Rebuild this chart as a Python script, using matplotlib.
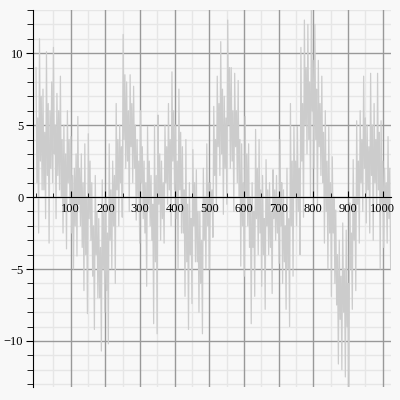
import numpy as np
import matplotlib.pyplot as plt
from matplotlib.ticker import MultipleLocator

# the signal in steps of 10 along x:
# a peak, two in-between values and a trough for every step
highs = [
    9.0, 11.0, 7.5, 10.1, 6.0, 10.4, 7.2, 8.4, 5.0, 6.0,
    4.2, 2.0, 5.6, 3.0, 3.7, 4.4, 1.0, 1.5, -1.5, 1.2,
    0.0, 3.7, 2.5, 6.5, 5.0, 11.3, 8.0, 8.5, 7.7, 4.0,
    6.0, 2.5, 4.9, 1.5, 5.0, 5.7, 2.5, 5.0, 6.5, 8.7,
    5.0, 7.5, 3.5, 4.0, 1.0, 3.3, 1.9, -1.0, 2.0, 3.7,
    1.0, 6.3, 8.4, 10.8, 7.0, 12.3, 9.0, 8.6, 8.1, 3.7,
    5.6, 3.7, 1.0, 4.7, 4.0, 1.5, 2.6, 1.0, 1.9, 1.5,
    4.0, 0.5, 2.0, 6.5, 4.9, 4.9, 10.4, 12.3, 12.0, 13.0,
    12.0, 9.5, 8.4, 6.0, 4.9, 2.8, -0.9, -3.0, -1.8, -2.3,
    -0.4, 2.6, 5.3, 6.0, 8.4, 5.0, 8.6, 6.5, 8.6, 5.3,
    2.0, 4.2,
]
inner_a = [
    1.0, 2.5, 0.5, 1.5, 2.0, 3.0, 1.5, 0.0, -1.0, 1.0,
    -2.5, -2.0, -0.5, -3.5, -4.0, -1.5, -5.5, -4.0, -7.0, -5.0,
    -6.5, -3.0, -2.0, 0.5, 1.0, 4.0, 2.5, 3.5, 2.0, 0.0,
    1.0, -2.5, -0.5, -3.0, -4.5, -0.5, -1.5, 1.0, 0.5, 2.5,
    -1.5, 0.5, -2.5, -4.5, -4.0, -2.0, -4.5, -6.0, -3.0, -2.0,
    -1.0, 1.5, 3.5, 3.0, 2.0, 5.0, 2.5, 3.5, 0.0, -2.0,
    0.0, -3.5, -3.5, -1.5, -2.5, -4.0, -2.0, -3.5, -1.5, -2.5,
    -2.0, -4.5, -5.0, -2.0, 0.0, -1.0, 2.5, 5.0, 4.0, 6.0,
    4.0, 3.5, 1.0, -1.0, -2.5, -2.5, -7.5, -8.5, -8.0, -9.0,
    -5.0, -3.0, -0.5, 1.0, 2.0, 0.5, 1.5, 1.0, 0.5, -0.5,
    -1.0, -1.5,
]
inner_b = [
    5.5, 7.0, 4.5, 6.5, 8.0, 5.0, 6.0, 4.0, 3.0, 4.0,
    1.5, 3.0, 2.0, 1.0, 0.0, 2.5, -2.0, -1.0, -3.5, -1.0,
    -2.5, 0.5, 1.5, 4.0, 3.5, 8.5, 6.0, 6.5, 5.0, 2.5,
    3.5, 1.0, 2.5, -0.5, 1.5, 3.0, 1.0, 3.5, 4.0, 6.0,
    2.5, 4.5, 0.5, -0.5, -1.5, 1.0, -1.0, -3.0, 0.0, 1.0,
    0.5, 4.0, 6.5, 7.5, 5.5, 9.0, 6.0, 6.0, 4.0, 1.0,
    3.0, 0.0, -1.0, 2.0, 0.5, -1.5, 0.5, -1.0, 0.5, 0.0,
    1.0, -2.0, -1.5, 2.5, 2.5, 2.0, 6.5, 9.0, 8.0, 9.5,
    7.5, 6.5, 4.5, 2.5, 1.0, 0.0, -4.0, -5.5, -5.0, -6.0,
    -2.5, 0.0, 2.5, 4.0, 5.5, 3.5, 5.0, 4.0, 4.5, 2.5,
    1.0, 2.0,
]
lows = [
    -2.5, 0.5, -1.5, -3.2, 1.0, -1.5, 0.5, -2.5, -3.6, -0.5,
    -5.0, -4.1, -2.0, -6.5, -8.1, -3.0, -9.2, -7.0, -10.7, -8.0,
    -10.2, -5.0, -6.0, -2.0, -1.4, 2.0, -1.0, 1.0, -1.6, -3.2,
    -1.5, -6.2, -2.0, -8.8, -9.5, -3.0, -3.2, -0.5, -2.0, 0.5,
    -5.0, -2.5, -6.9, -9.2, -7.4, -4.5, -8.0, -9.5, -5.0, -5.0,
    -2.8, -0.9, 1.5, -1.2, -0.5, 2.0, -1.0, 1.0, -4.8, -5.5,
    -2.0, -8.8, -6.9, -4.0, -6.2, -7.8, -4.0, -6.7, -3.0, -4.6,
    -6.0, -7.8, -9.0, -5.5, -2.0, -4.0, -1.4, 3.0, 0.0, 2.0,
    -0.9, 1.5, -3.2, -5.0, -6.9, -6.0, -11.6, -12.0, -12.5, -13.4,
    -7.8, -6.5, -3.2, -1.0, -1.8, -2.5, -3.0, -1.0, -5.0, -3.5,
    -3.2, -5.0,
]
values = np.column_stack([highs, inner_a, inner_b, lows]).ravel()
x = np.linspace(0, 1023, len(values))

xt = list(range(100, 1001, 100))
yt = [-10, -5, 0, 5, 10]
ytl = ['\u221210', '\u22125', '0', '5', '10']

bg = '#f8f8f8'
fig = plt.figure(figsize=(4, 4), dpi=100, facecolor=bg)
ax = fig.add_axes([0.0825, 0.0325, 0.895, 0.9425], facecolor=bg)

ax.set_xlim(-8.7, 1024)
ax.set_ylim(-13.2, 13.0)

# grid drawn by hand so it stays under the line while tick labels sit on top
for v in np.arange(50, 1024, 50):
    major = v % 100 == 0
    ax.axvline(v, color='#999999' if major else '#e6e6e6', lw=1.0,
               zorder=0.6 if major else 0.5)
for v in range(-13, 14):
    major = v % 5 == 0
    ax.axhline(v, color='#999999' if major else '#e6e6e6', lw=1.0,
               zorder=0.6 if major else 0.5)

ax.plot(x, values, color='#cccccc', lw=0.9, zorder=1)

ax.xaxis.set_minor_locator(MultipleLocator(50))
ax.yaxis.set_minor_locator(MultipleLocator(1))

for s in ('top', 'right'):
    ax.spines[s].set_visible(False)
ax.spines['bottom'].set_position(('data', 0))

ax.tick_params(axis='x', which='major', direction='in', length=4, pad=4)
ax.tick_params(axis='x', which='minor', direction='in', length=3)
ax.tick_params(axis='y', which='major', direction='out', length=5, pad=2)
ax.tick_params(axis='y', which='minor', direction='out', length=4)

ax.set_xticks(xt)
ax.set_xticklabels([str(t) for t in xt], family='Liberation Serif', fontsize=9)
ax.set_yticks(yt)
ax.set_yticklabels(ytl, family='Liberation Serif', fontsize=9)

plt.savefig('out.png', dpi=100, facecolor=bg)
